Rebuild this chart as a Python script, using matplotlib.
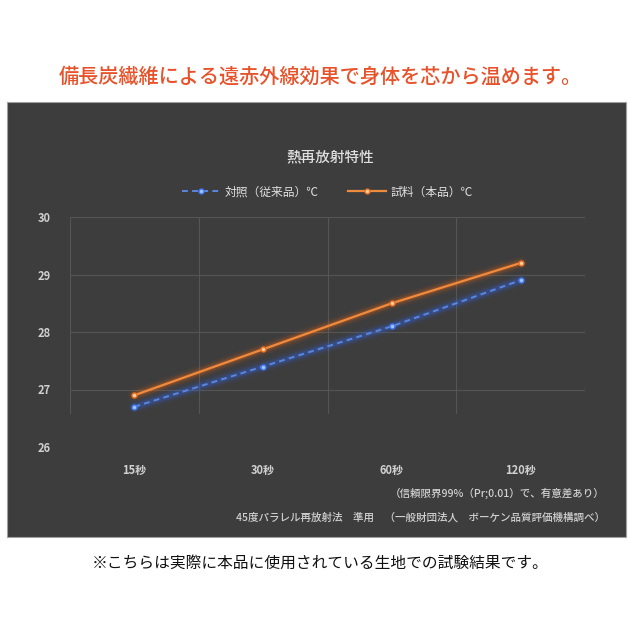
import matplotlib
matplotlib.use("Agg")
import matplotlib.pyplot as plt
from matplotlib.patches import Rectangle

plt.rcParams['font.family'] = ['Noto Sans CJK JP', 'DejaVu Sans']

categories = ["15秒", "30秒", "60秒", "120秒"]
control = [26.7, 27.4, 28.1, 28.9]   # 対照（従来品）℃
sample = [26.9, 27.7, 28.5, 29.2]    # 試料（本品）℃
yticks = [26, 27, 28, 29, 30]

W = 640.0
H = 640.0
fig = plt.figure(figsize=(6.4, 6.4), dpi=100)
fig.patch.set_facecolor("white")

# dark panel behind the chart
fig.patches.append(Rectangle((7 / W, 1 - 537 / H), 619 / W, 435 / H,
                             transform=fig.transFigure, facecolor="#3d3d3d",
                             edgecolor="#a0a0a0", linewidth=0.8, zorder=-5))

fig.text(0.5, 1 - 77 / H, "備長炭繊維による遠赤外線効果で身体を芯から温めます。",
         ha="center", va="center", color="#e8522a", fontsize=14.5, fontweight="medium")
fig.text(0.5, 1 - 563 / H, "※こちらは実際に本品に使用されている生地での試験結果です。",
         ha="center", va="center", color="#111111", fontsize=11.3)

ax = fig.add_axes([70 / W, 1 - 447 / H, 515 / W, 230 / H])
ax.set_facecolor("none")
x = list(range(len(categories)))
ax.set_xlim(-0.5, len(categories) - 0.5)
ax.set_ylim(26, 30)
ax.set_yticks(yticks)
ax.set_xticks(x)
ax.set_xticklabels(categories)
ax.grid(False)
for v in yticks[1:]:
    ax.axhline(v, color="#555555", linewidth=0.8, zorder=1)
for v in [i - 0.5 for i in range(len(categories) + 1)]:
    ax.axvline(v, ymin=0.15, color="#555555", linewidth=0.8, zorder=1)
for s in ax.spines.values():
    s.set_visible(False)
ax.tick_params(axis="both", which="both", length=0, colors="#d0d0d0", labelsize=8)
ax.tick_params(axis="y", pad=14)
ax.tick_params(axis="x", pad=12)
for lbl in ax.get_yticklabels() + ax.get_xticklabels():
    lbl.set_fontweight("bold")

# glow
for lw, a in [(9, 0.06), (6, 0.12), (3.5, 0.2)]:
    ax.plot(x, control, color="#2f6bff", linewidth=lw, alpha=a, solid_capstyle="round", zorder=2)
    ax.plot(x, sample, color="#ff6a10", linewidth=lw, alpha=a, solid_capstyle="round", zorder=2)
ax.plot(x, control, color="#5a86e0", linewidth=1.4, linestyle=(0, (3, 2.2)),
        marker="o", markersize=3.5, markerfacecolor="#a8c4ff", markeredgecolor="#3f7bff",
        zorder=3, label="対照（従来品）℃")
ax.plot(x, sample, color="#f08a3c", linewidth=1.6,
        marker="o", markersize=3.5, markerfacecolor="#ffd0a8", markeredgecolor="#f07020",
        zorder=3, label="試料（本品）℃")

fig.text(330 / W, 1 - 157 / H, "熱再放射特性", ha="center", va="center",
         color="#e0e0e0", fontsize=10.5, fontweight="medium")
leg = ax.legend(loc="center", bbox_to_anchor=(0.5, (447 - 192) / 230), ncol=2,
                frameon=False, fontsize=8.5, labelcolor="#e0e0e0", handlelength=3.2,
                columnspacing=2.5, handletextpad=0.4)

fig.text(605 / W, 1 - 493 / H, "（信頼限界99%（Pr;0.01）で、有意差あり）",
         ha="right", va="center", color="#d0d0d0", fontsize=7.6, fontweight="medium")
fig.text(605 / W, 1 - 517 / H, "45度パラレル再放射法　準用　（一般財団法人　ボーケン品質評価機構調べ）",
         ha="right", va="center", color="#d0d0d0", fontsize=7.6, fontweight="medium")

fig.savefig("out.png", dpi=100, facecolor=fig.get_facecolor())
